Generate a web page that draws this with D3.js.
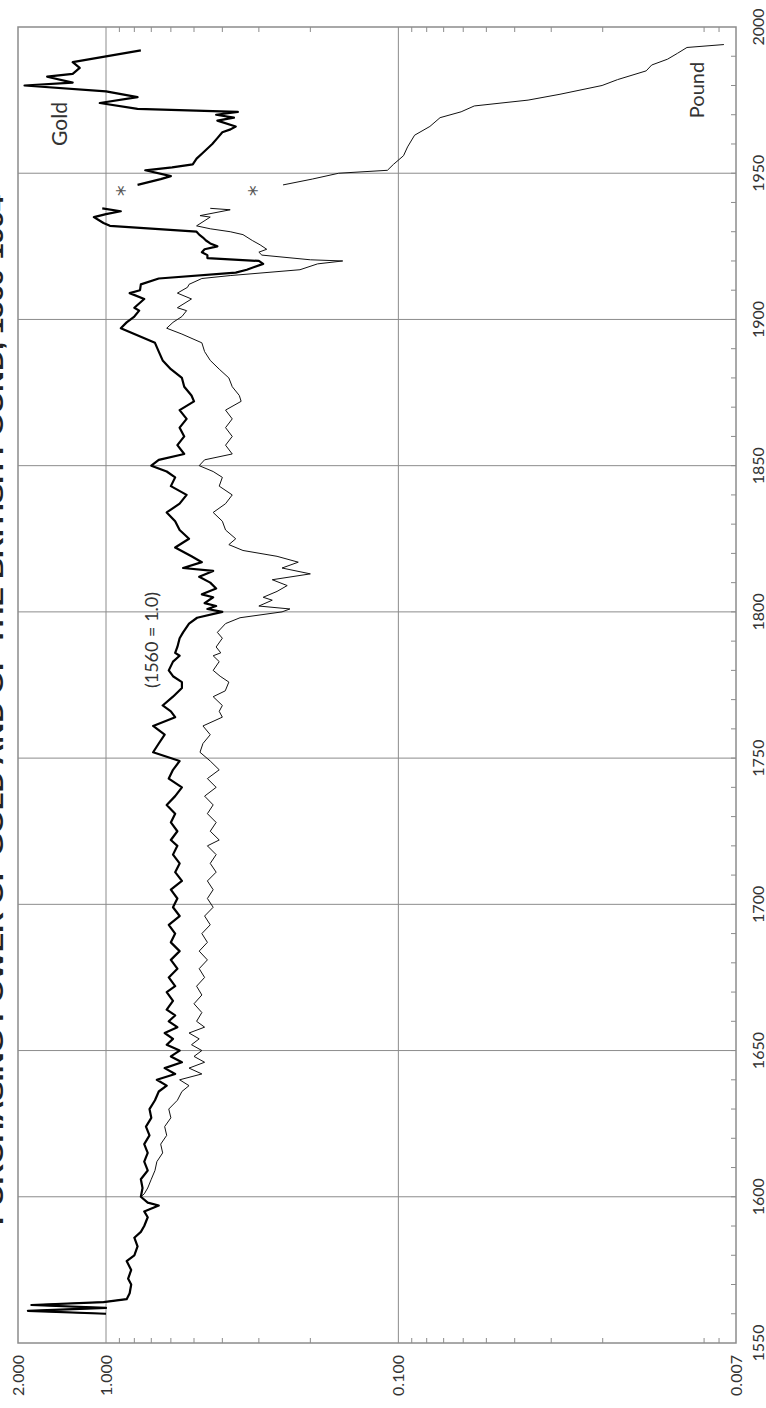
<!DOCTYPE html>
<html lang="en">
<head>
<meta charset="UTF-8">
<title>Purchasing power of gold and of the British pound</title>
<style>
  body { margin: 0; background: #fff; }
  svg { display: block; }
</style>
</head>
<body>
<div class="canvas"></div>
<script src="https://cdnjs.cloudflare.com/ajax/libs/d3/7.8.5/d3.min.js"></script>
<script>
// purchasing power, 1560 = 1.0; null = no data (war years)
const goldYears = [1560,1561,1562,1563,1564,1565,1567,1570,1572,1575,1578,1580,1583,1586,1588,1590,1593,1595,
  1597,1598,1600,1603,1606,1609,1612,1615,1618,1621,1624,1627,1630,1633,1636,1638,1640,1642,1644,1646,1648,
  1650,1652,1654,1656,1658,1660,1662,1664,1667,1670,1672,1675,1678,1681,1684,1687,1690,1693,1696,1699,1702,
  1705,1708,1711,1714,1717,1720,1722,1725,1728,1731,1734,1737,1740,1743,1746,1749,1752,1755,1758,1761,1764,
  1766,1768,1771,1774,1776,1778,1780,1783,1785,1786,1788,1791,1793,1796,1798,1800,1801,1802,1803,1805,1806,
  1808,1810,1812,1814,1815,1817,1819,1822,1825,1828,1831,1834,1837,1840,1843,1846,1848,1850,1852,1854,1857,
  1860,1863,1866,1869,1872,1874,1877,1880,1883,1886,1889,1892,1895,1897,1899,1901,1903,1904,1907,1909,1910,
  1912,1914,1916,1917,1919,1920,1921,1922,1923,1924,1925,1926,1927,1928,1929,1930,1932,1933,1934,1935,1936,
  1937,1938,1942,
  1946,1948,1949,1951,1952,1953,1955,1957,1960,1962,1964,1965,1966,1968,1969,1970,1971,1972,1974,1976,1978,
  1980,1981,1983,1984,1986,1988,1992];
const goldValues = [1.0,1.85,1.0,1.8,1.02,0.85,0.83,0.82,0.84,0.82,0.85,0.80,0.78,0.80,0.76,0.74,0.72,0.74,
  0.66,0.72,0.76,0.75,0.76,0.72,0.74,0.72,0.74,0.71,0.73,0.70,0.71,0.68,0.66,0.62,0.67,0.58,0.63,0.55,0.60,
  0.56,0.62,0.59,0.63,0.57,0.61,0.58,0.62,0.59,0.62,0.58,0.61,0.57,0.60,0.56,0.60,0.58,0.61,0.56,0.59,0.57,
  0.60,0.55,0.58,0.56,0.59,0.57,0.60,0.57,0.60,0.58,0.62,0.58,0.55,0.61,0.59,0.56,0.69,0.66,0.63,0.69,0.58,
  0.60,0.64,0.59,0.55,0.55,0.59,0.61,0.59,0.56,0.58,0.57,0.56,0.545,0.52,0.488,0.40,0.45,0.42,0.46,0.43,0.47,
  0.42,0.44,0.48,0.43,0.545,0.47,0.51,0.58,0.52,0.56,0.58,0.62,0.56,0.53,0.60,0.58,0.62,0.70,0.66,0.54,0.57,
  0.54,0.56,0.53,0.56,0.50,0.51,0.54,0.55,0.60,0.64,0.66,0.68,0.80,0.89,0.85,0.80,0.77,0.80,0.74,0.83,0.765,
  0.76,0.66,0.36,0.33,0.29,0.30,0.45,0.45,0.47,0.46,0.416,0.44,0.455,0.466,0.48,0.49,0.97,1.02,1.06,1.10,1.0,
  0.89,1.03,null,
  0.78,0.65,0.60,0.734,0.594,0.505,0.49,0.466,0.433,0.416,0.40,0.375,0.36,0.416,0.365,0.42,0.354,0.78,1.05,
  0.78,1.0,1.9,1.3,1.59,1.3,1.23,1.3,0.76];

const poundYears = [1560,1561,1562,1563,1564,1565,1567,1570,1572,1575,1578,1580,1583,1586,1588,1590,1593,1595,
  1597,1598,1600,1601,1603,1606,1609,1612,1615,1618,1621,1624,1627,1630,1633,1636,1638,1640,1642,1644,1646,
  1648,1650,1652,1654,1656,1658,1660,1663,1666,1669,1672,1675,1678,1681,1684,1687,1690,1693,1696,1699,1702,
  1705,1708,1711,1714,1717,1720,1722,1725,1728,1731,1734,1737,1740,1743,1746,1749,1752,1755,1758,1761,1764,
  1766,1768,1771,1773,1776,1778,1780,1783,1785,1786,1788,1791,1793,1796,1798,1800,1801,1802,1804,1805,1807,
  1809,1811,1813,1815,1817,1819,1821,1823,1825,1828,1831,1834,1837,1840,1843,1846,1848,1850,1852,1854,1857,
  1860,1863,1866,1869,1872,1874,1877,1880,1883,1886,1889,1892,1895,1897,1899,1901,1903,1904,1907,1909,1911,
  1912,1914,1915,1917,1919,1920,1920.4,1922,1923,1924,1925.5,1927,1929,1930,1931,1932,1935,1935.5,1937.5,1938,
  1942,
  1946,1948,1950,1951,1953,1956,1959,1963,1966,1969,1971,1973,1975,1977,1980,1982,1985,1987,1989,1991,1993,
  1994];
const poundValues = [1.0,1.85,1.0,1.8,1.02,0.85,0.83,0.82,0.84,0.82,0.85,0.80,0.78,0.80,0.76,0.74,0.72,0.74,
  0.66,0.72,0.76,0.74,0.72,0.70,0.68,0.67,0.64,0.65,0.62,0.63,0.60,0.61,0.57,0.55,0.52,0.56,0.47,0.52,0.46,
  0.50,0.47,0.51,0.48,0.52,0.46,0.49,0.47,0.50,0.47,0.49,0.46,0.48,0.45,0.48,0.45,0.47,0.44,0.46,0.43,0.45,
  0.43,0.45,0.42,0.44,0.42,0.45,0.41,0.44,0.42,0.45,0.43,0.46,0.42,0.45,0.41,0.44,0.477,0.466,0.44,0.466,0.40,
  0.41,0.40,0.43,0.391,0.38,0.407,0.43,0.41,0.43,0.405,0.42,0.40,0.416,0.39,0.348,0.25,0.235,0.30,0.27,
  0.29,0.26,0.24,0.27,0.20,0.25,0.22,0.26,0.34,0.38,0.36,0.39,0.40,0.43,0.39,0.37,0.41,0.40,0.43,0.48,0.46,
  0.37,0.39,0.37,0.39,0.37,0.39,0.345,0.35,0.37,0.38,0.41,0.44,0.46,0.47,0.55,0.62,0.59,0.55,0.53,0.57,0.51,
  0.57,0.526,0.52,0.47,0.376,0.217,0.189,0.155,0.20,0.293,0.30,0.282,0.297,0.316,0.34,0.376,0.44,0.49,0.44,
  0.477,0.376,0.44,null,
  0.248,0.197,0.16,0.109,0.104,0.096,0.093,0.088,0.078,0.072,0.061,0.055,0.036,0.028,0.0201,0.0178,0.0142,
  0.0136,0.012,0.0111,0.0103,0.0077];

const yearTicks = d3.range(1560, 2000, 10);
const yearLabels = d3.range(1550, 2001, 50);
const valueLabels = [2, 1, 0.1, 0.007];
const valueGrid = [1, 0.1];
const valueMinor = [0.008, 0.009, 0.02, 0.03, 0.04, 0.05, 0.06, 0.07, 0.08, 0.09,
  0.2, 0.3, 0.4, 0.5, 0.6, 0.7, 0.8, 0.9];
const breakYear = 1944;
const breakValues = [0.9, 0.32];

const W = 1408, H = 766;   // chart drawn lying on its side, then turned
const x = d3.scaleLinear().domain([1550, 2000]).range([65, 1381]);
const y = d3.scaleLog().domain([2, 0.007]).range([18, 736]);

const svg = d3.select('.canvas').append('svg')
  .attr('width', H)
  .attr('height', W);

const g = svg.append('g')
  .attr('transform', `translate(0,${W}) rotate(-90)`);

const grey = '#8c8c8c';
const font = 'Lato, "Open Sans", sans-serif';

// grid
g.selectAll('.vgrid').data(yearLabels.slice(1, -1)).join('line')
  .attr('x1', d => x(d)).attr('x2', d => x(d))
  .attr('y1', y(2)).attr('y2', y(0.007))
  .attr('stroke', grey).attr('stroke-width', 1);

g.selectAll('.hgrid').data(valueGrid).join('line')
  .attr('x1', x(1550)).attr('x2', x(2000))
  .attr('y1', d => y(d)).attr('y2', d => y(d))
  .attr('stroke', grey).attr('stroke-width', 1);

// small ticks
g.selectAll('.ytick').data(yearTicks).join('line')
  .attr('x1', d => x(d)).attr('x2', d => x(d))
  .attr('y1', y(0.007)).attr('y2', y(0.007) - 5)
  .attr('stroke', grey);

g.selectAll('.vtickL').data(valueMinor).join('line')
  .attr('x1', x(1550)).attr('x2', x(1550) + 5)
  .attr('y1', d => y(d)).attr('y2', d => y(d))
  .attr('stroke', grey);

g.selectAll('.vtickR').data(valueMinor).join('line')
  .attr('x1', x(2000)).attr('x2', x(2000) - 5)
  .attr('y1', d => y(d)).attr('y2', d => y(d))
  .attr('stroke', grey);

// frame
g.append('rect')
  .attr('x', x(1550)).attr('y', y(2))
  .attr('width', x(2000) - x(1550))
  .attr('height', y(0.007) - y(2))
  .attr('fill', 'none')
  .attr('stroke', grey)
  .attr('stroke-width', 1.5);

const line = d3.line()
  .defined(d => d[1] != null)
  .x(d => x(d[0]))
  .y(d => y(d[1]));

const pound = poundYears.map((yr, i) => [yr, poundValues[i]]);
const gold = goldYears.map((yr, i) => [yr, goldValues[i]]);

g.append('path')
  .datum(pound)
  .attr('d', line)
  .attr('fill', 'none')
  .attr('stroke', '#111')
  .attr('stroke-width', 1)
  .attr('stroke-linejoin', 'round');

g.append('path')
  .datum(gold)
  .attr('d', line)
  .attr('fill', 'none')
  .attr('stroke', '#000')
  .attr('stroke-width', 2.2)
  .attr('stroke-linejoin', 'round');

// axis labels
g.selectAll('.ylab').data(yearLabels).join('text')
  .attr('x', d => x(d))
  .attr('y', 764)
  .attr('text-anchor', 'middle')
  .style('font-family', font)
  .style('font-size', '16px')
  .attr('fill', '#333')
  .text(d => d);

g.selectAll('.vlab').data(valueLabels).join('text')
  .attr('x', x(1550) - 12)
  .attr('y', d => y(d))
  .attr('dy', '0.36em')
  .attr('text-anchor', 'end')
  .style('font-family', font)
  .style('font-size', '16px')
  .attr('fill', '#333')
  .text(d => d3.format('.3f')(d));

// title, sitting half off the page as in the original
g.append('text')
  .attr('x', 698)
  .attr('y', 3)
  .attr('text-anchor', 'middle')
  .attr('textLength', 1030)
  .attr('lengthAdjust', 'spacingAndGlyphs')
  .style('font-family', '"Liberation Sans Narrow", "Liberation Sans", sans-serif')
  .style('font-weight', 'bold')
  .style('font-size', '22px')
  .attr('fill', '#222')
  .text('PURCHASING POWER OF GOLD AND OF THE BRITISH POUND, 1560-1994');

g.append('text')
  .attr('x', 768).attr('y', 158)
  .attr('text-anchor', 'middle')
  .style('font-family', font).style('font-size', '18px')
  .attr('fill', '#333')
  .text('(1560 = 1.0)');

g.append('text')
  .attr('x', 1284).attr('y', 67)
  .attr('text-anchor', 'middle')
  .style('font-family', font).style('font-size', '21px')
  .attr('fill', '#333')
  .text('Gold');

g.append('text')
  .attr('x', 1318).attr('y', 704)
  .attr('text-anchor', 'middle')
  .style('font-family', font).style('font-size', '20px')
  .attr('fill', '#333')
  .text('Pound');

g.selectAll('.star').data(breakValues).join('text')
  .attr('x', x(breakYear))
  .attr('y', d => y(d) + 13)
  .attr('text-anchor', 'middle')
  .style('font-family', '"DejaVu Sans", sans-serif').style('font-size', '22px')
  .attr('fill', '#555')
  .text('*');
</script>
</body>
</html>
